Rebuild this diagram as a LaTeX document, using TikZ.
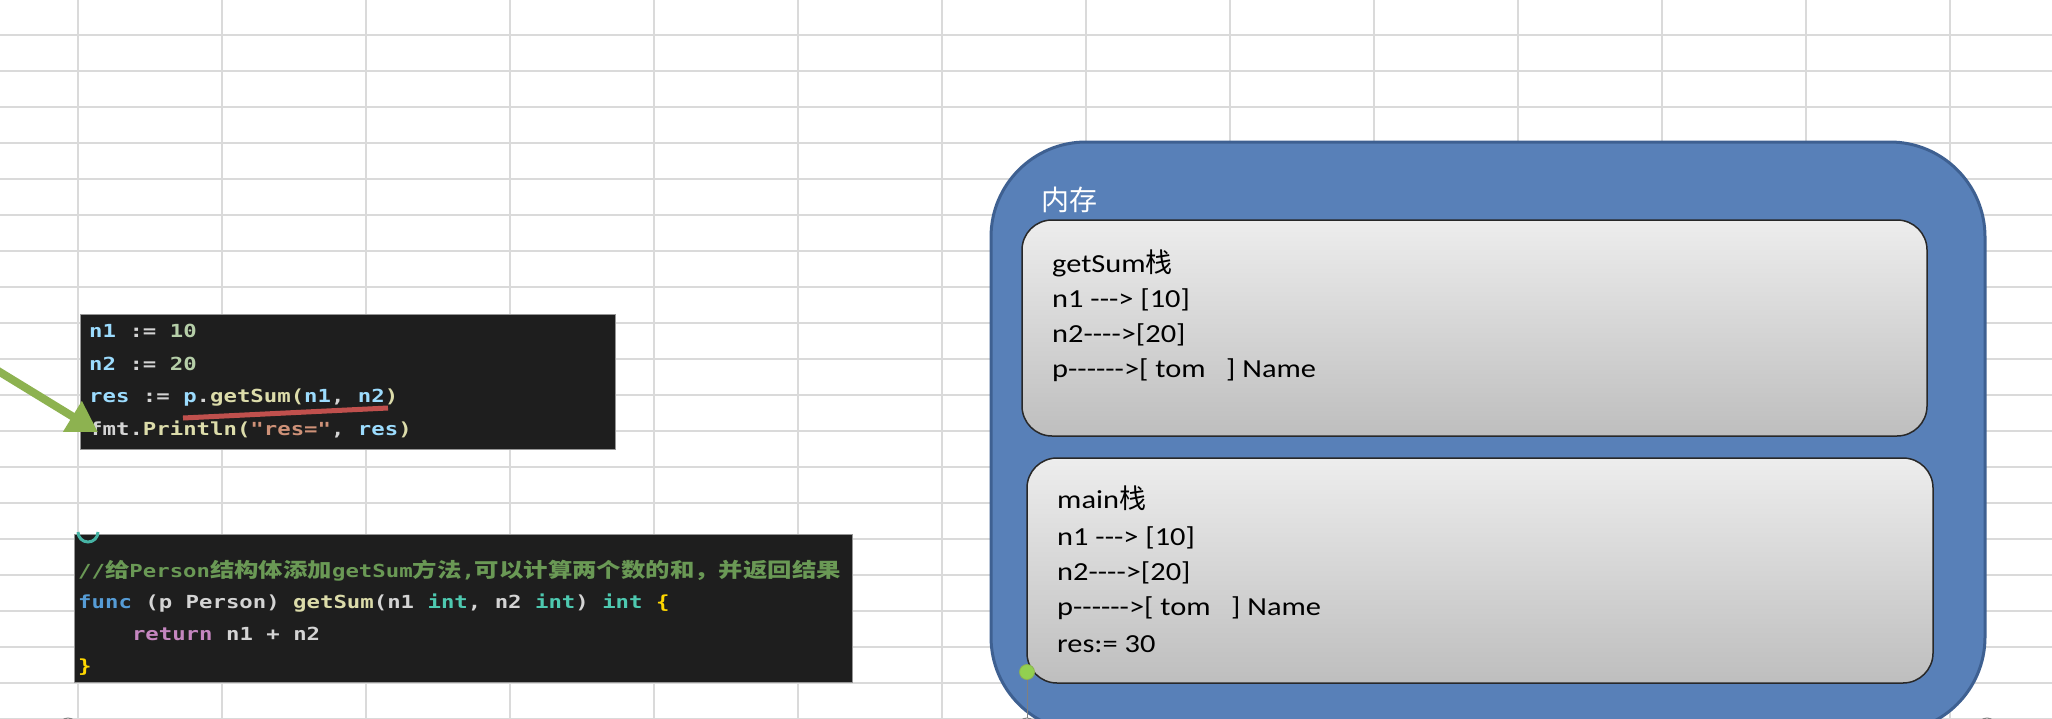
\documentclass[tikz,border=0pt]{standalone}
\usepackage{fontspec}
\setmainfont{Carlito}[FakeStretch=1.17,Ligatures=TeXOff]
\newfontfamily\zhfont{Noto Sans CJK SC}
\newfontfamily\codefont{DejaVu Sans Mono}[FakeStretch=1.24,Ligatures=TeXOff]
\newfontfamily\codezh{Noto Sans CJK SC}[FakeStretch=1.22]
\usetikzlibrary{arrows.meta}
\definecolor{gridc}{RGB}{218,218,218}
\definecolor{memblue}{RGB}{88,128,184}
\definecolor{memedge}{RGB}{62,96,145}
\definecolor{boxedge}{RGB}{40,40,40}
\definecolor{boxtop}{RGB}{237,237,237}
\definecolor{boxbot}{RGB}{190,190,190}
\definecolor{codebg}{RGB}{30,30,30}
\definecolor{codeedge}{RGB}{150,150,150}
\definecolor{cvar}{HTML}{9CDCFE}
\definecolor{cwht}{HTML}{D4D4D4}
\definecolor{cnum}{HTML}{B5CEA8}
\definecolor{cfn}{HTML}{DCDCAA}
\definecolor{cstr}{HTML}{CE9178}
\definecolor{ckw}{HTML}{569CD6}
\definecolor{ctyp}{HTML}{4EC9B0}
\definecolor{cret}{HTML}{C586C0}
\definecolor{ccom}{HTML}{6A9955}
\definecolor{cbr}{HTML}{FFD700}
\definecolor{arrgreen}{RGB}{141,178,80}
\definecolor{ulred}{RGB}{192,80,77}
\definecolor{dotgreen}{RGB}{146,208,80}
\definecolor{tealc}{RGB}{70,180,165}
\newcommand\czh[1]{{\codezh\fontsize{20}{20}\selectfont #1}}
\newcommand\zhs[1]{{\zhfont\fontsize{27}{27}\selectfont #1}}
\begin{document}
\begin{tikzpicture}[x=1pt,y=-1pt,
  gridline/.style={draw=gridc,line width=1.5pt},
  membox/.style={rectangle,draw=memedge,fill=memblue,line width=3pt,rounded corners=95pt,inner sep=0pt},
  memtitle/.style={anchor=base west,inner sep=0pt,text=white,font=\zhfont\fontsize{28}{28}\selectfont},
  stackbox/.style={rectangle,draw=boxedge,line width=1.5pt,rounded corners=30pt,top color=boxtop,bottom color=boxbot,inner sep=0pt},
  memtxt/.style={anchor=base west,inner sep=0pt,text=black,font=\fontsize{26}{30}\selectfont},
  codebox/.style={rectangle,draw=codeedge,line width=1pt,fill=codebg,inner sep=0pt},
  codetxt/.style={anchor=base west,inner sep=0pt,font=\codefont\bfseries\fontsize{18}{18}\selectfont},
  garrow/.style={draw=arrgreen,line width=8pt,-{Triangle[length=30pt,width=34pt]}},
  redline/.style={draw=ulred,line width=5pt},
  handle/.style={circle,draw=gray,fill=white,line width=1pt,minimum size=18pt,inner sep=0pt},
  gdot/.style={circle,draw=arrgreen,fill=dotgreen,line width=0.8pt,minimum size=15pt,inner sep=0pt}
]
\path[use as bounding box,clip] (0,0) rectangle (2052,718);
\fill[white] (0,0) rectangle (2052,718);
% spreadsheet grid
\foreach \gx in {78,222,...,1950} \draw[gridline] (\gx,0) -- (\gx,718);
\foreach \gy in {35,71,...,719} \draw[gridline] (0,\gy) -- (2052,\gy);

% memory area
\node[membox,minimum width=994pt,minimum height=590pt] (mem) at (1488,437) {};
\node[memtitle] (memT) at (1041,210) {内存};

\node[stackbox,minimum width=905pt,minimum height=216pt] (gs) at (1474.5,328) {};
\node[memtxt] (gs1) at (1052,272) {getSum\zhs{栈}};
\node[memtxt] (gs2) at (1052,307) {n1 ---> [10]};
\node[memtxt] (gs3) at (1052,342) {n2---->[20]};
\node[memtxt] (gs4) at (1052,377) {p------>[ tom\ \ \ ] Name};

\node[stackbox,minimum width=906pt,minimum height=225pt] (mn) at (1480,570.5) {};
\node[memtxt] (mn1) at (1057,508) {main\zhs{栈}};
\node[memtxt] (mn2) at (1057,545) {n1 ---> [10]};
\node[memtxt] (mn3) at (1057,580) {n2---->[20]};
\node[memtxt] (mn4) at (1057,615) {p------>[ tom\ \ \ ] Name};
\node[memtxt] (mn5) at (1057,652) {res:= 30};

% selection handles
\node[handle] (h1) at (68,727) {};
\node[handle] (h2) at (1027,727) {};
\node[handle] (h3) at (1987,727) {};
\node[gdot] (gd) at (1027,672) {};
\draw[gray,line width=0.8pt] (gd) -- (h2);

% code block 1
\node[codebox,minimum width=535pt,minimum height=135pt] (c1) at (347.5,381.5) {};
\node[codetxt] (c1l1) at (89,337) {\textcolor{cvar}{n1} \textcolor{cwht}{:=} \textcolor{cnum}{10}};
\node[codetxt] (c1l2) at (89,370) {\textcolor{cvar}{n2} \textcolor{cwht}{:=} \textcolor{cnum}{20}};
\node[codetxt] (c1l3) at (89,402) {\textcolor{cvar}{res} \textcolor{cwht}{:=} \textcolor{cvar}{p}\textcolor{cwht}{.}\textcolor{cfn}{getSum}\textcolor{cfn}{(}\textcolor{cvar}{n1}\textcolor{cwht}{,} \textcolor{cvar}{n2}\textcolor{cfn}{)}};
\node[codetxt] (c1l4) at (89,435) {\textcolor{cwht}{fmt.}\textcolor{cfn}{Println(}\textcolor{cstr}{"res="}\textcolor{cwht}{,} \textcolor{cvar}{res}\textcolor{cfn}{)}};
\coordinate (ulA) at (183,418);
\coordinate (ulB) at (388,408);
\draw[redline] (ulA) -- (ulB);

% code block 2
\node[codebox,minimum width=778pt,minimum height=148pt] (c2) at (463,608) {};
\node[codetxt] (c2l1) at (78,577) {\textcolor{ccom}{//\czh{给}Person\czh{结构体添加}getSum\czh{方法},\czh{可以计算两个数的和，并返回结果}}};
\node[codetxt] (c2l2) at (78,608) {\textcolor{ckw}{func} \textcolor{cwht}{(p Person)} \textcolor{cfn}{getSum}\textcolor{cwht}{(n1} \textcolor{ctyp}{int}\textcolor{cwht}{, n2} \textcolor{ctyp}{int}\textcolor{cwht}{)} \textcolor{ctyp}{int} \textcolor{cbr}{\{}};
\node[codetxt] (c2l3) at (131.8,640) {\textcolor{cret}{return} \textcolor{cwht}{n1 + n2}};
\node[codetxt] (c2l4) at (78,672) {\textcolor{cbr}{\}}};
\draw[draw=tealc,line width=3pt] (78,532) arc[start angle=180,end angle=0,radius=10];

% green arrow
\coordinate (arrS) at (-10,366);
\coordinate (arrT) at (98,432);
\draw[garrow] (arrS) -- (arrT);
\end{tikzpicture}
\end{document}
